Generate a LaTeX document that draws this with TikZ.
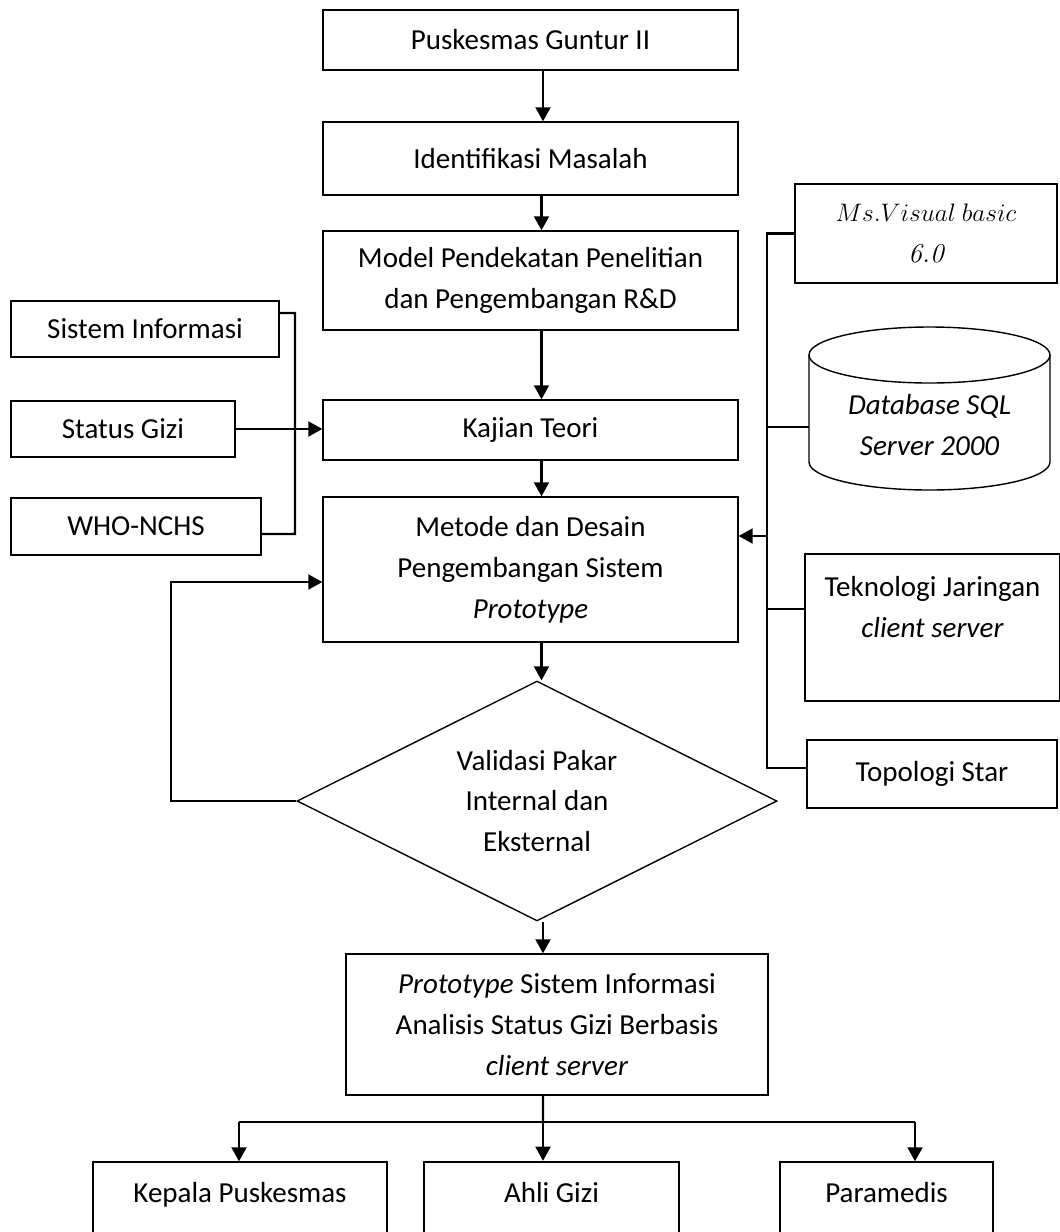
\documentclass[tikz,border=0pt]{standalone}
\usepackage{fontspec}
\setmainfont{Carlito}
\usepackage{tikz}
\usetikzlibrary{arrows.meta,shapes.geometric}

\begin{document}
\begin{tikzpicture}[x=0.02cm,y=-0.02cm,
  box/.style={draw,line width=0.8pt,minimum width=8.3cm,align=center,inner sep=2pt,
              font=\fontsize{16.5}{23.2}\selectfont},
  tbox/.style={box,line width=1.4pt},
  arr/.style={-{Triangle[length=8pt,width=8.5pt]},line width=1.3pt},
  ln/.style={line width=1.3pt}
]
\useasboundingbox (0,0) rectangle (1060,1232);
\clip (0,0) rectangle (1060,1232);

\node[box,minimum height=1.2cm] (pusk) at (530.5,40) {Puskesmas Guntur II};
\node[box,minimum height=1.46cm] (ident) at (530.5,158.5) {Identifikasi Masalah};
\node[box,minimum height=1.98cm] (model) at (530.5,280.5) {Model Pendekatan Penelitian\\dan Pengembangan R\&D};
\node[box,minimum height=1.2cm] (kajian) at (530.5,430) {Kajian Teori};
\node[box,minimum height=2.9cm] (metode) at (530.5,569.5) {Metode dan Desain\\Pengembangan Sistem\\\textit{Prototype}};
\node[draw,diamond,aspect=2,line width=0.8pt,minimum width=9.6cm,minimum height=4.8cm,
      inner sep=0pt,align=center,font=\fontsize{16.5}{23.2}\selectfont] (valid) at (537,801)
      {Validasi Pakar\\Internal dan\\Eksternal};
\node[box,minimum width=8.44cm,minimum height=2.82cm] (proto) at (557,1024.5)
      {\textit{Prototype} Sistem Informasi\\Analisis Status Gizi Berbasis\\\textit{client server}};

\node[box,minimum width=5.88cm,minimum height=2.02cm] (kepala) at (240,1212.5) {Kepala Puskesmas\\ };
\node[tbox,minimum width=5.1cm,minimum height=2.02cm] (ahli) at (551.5,1212.5) {Ahli Gizi\\ };
\node[box,minimum width=4.26cm,minimum height=2.02cm] (para) at (886.5,1212.5) {Paramedis\\ };

\node[tbox,minimum width=5.36cm,minimum height=1.12cm] (sisinfo) at (145,329) {Sistem Informasi};
\node[tbox,minimum width=4.48cm,minimum height=1.12cm] (status) at (123,429) {Status Gizi};
\node[tbox,minimum width=5cm,minimum height=1.14cm] (who) at (136,526.5) {WHO-NCHS};

\node[box,minimum width=5.24cm,minimum height=1.98cm,font=\fontsize{15.5}{23.2}\selectfont] (msvb) at (926,233.5)
      {$Ms.Visual\ basic$\\{\fontfamily{lmr}\itshape 6.0}};
\draw[line width=0.8pt] (929.5,355) ellipse [x radius=120.5,y radius=28];
\draw[line width=0.8pt] (809,355) -- (809,462) arc[start angle=180,end angle=0,x radius=120.5,y radius=28] -- (1050,355);
\node[align=center,font=\fontsize{16.5}{23.2}\selectfont\itshape] (db) at (929.5,425) {Database SQL\\Server 2000};
\coordinate (dbw) at (809,427);
\node[box,minimum width=5.1cm,minimum height=2.94cm] (tekno) at (932.5,627.5)
      {Teknologi Jaringan\\\textit{client server}\\ };
\node[tbox,minimum width=5cm,minimum height=1.36cm] (topo) at (932,774) {Topologi Star};

\draw[arr] ([xshift=.25cm]pusk.south) -- ([xshift=.25cm]ident.north);
\draw[arr] ([xshift=.22cm]ident.south) -- ([xshift=.22cm]model.north);
\draw[arr] ([xshift=.22cm]model.south) -- ([xshift=.22cm]kajian.north);
\draw[arr] ([xshift=.22cm]kajian.south) -- ([xshift=.22cm]metode.north);
\draw[arr] ([xshift=.22cm]metode.south) -- ([xshift=.22cm]metode.south |- valid.north);
\draw[arr] ([xshift=-.28cm]proto.north |- valid.south) -- ([xshift=-.28cm]proto.north);

\coordinate (lb1) at (295,313);
\coordinate (lb2) at (295,534);
\draw[ln] ([yshift=.32cm]sisinfo.east) -- (lb1) -- (lb2) -- (who.east |- lb2);
\draw[arr] (status.east) -- (status.east -| kajian.west);
\draw[arr] (valid.west) -- ++(-125,0) |- ([yshift=-.25cm]metode.west);

\coordinate (rb1) at (767,232);
\coordinate (rb2) at (767,768);
\coordinate (rin) at (767,536);
\draw[ln] (msvb.west) -| (rb2) -- (topo.west |- rb2);
\draw[ln] (dbw) -- (dbw -| rb1);
\draw[ln] ([yshift=.37cm]tekno.west) -- ++(-38,0);
\draw[arr] (rin) -- (rin -| metode.east);

\coordinate (j) at (543,1122);
\coordinate (jl) at (239,1122);
\coordinate (jr) at (915,1122);
\draw[ln] ([xshift=-.28cm]proto.south) -- (j);
\draw[ln] (jl) -- (jr);
\draw[arr] (jl) -- (jl |- kepala.north);
\draw[arr] (j) -- (j |- ahli.north);
\draw[arr] (jr) -- (jr |- para.north);
\end{tikzpicture}
\end{document}
